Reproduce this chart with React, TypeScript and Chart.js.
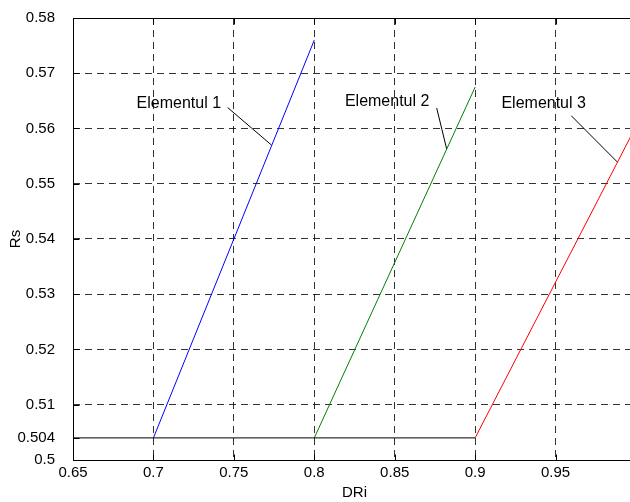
import React, { useEffect, useRef } from "react";
import { Chart, registerables } from "chart.js";

Chart.register(...registerables);

// ---- data ----
const xTicks = [0.65, 0.7, 0.75, 0.8, 0.85, 0.9, 0.95, 1];
const yTicks = [0.5, 0.504, 0.51, 0.52, 0.53, 0.54, 0.55, 0.56, 0.57, 0.58];

const baseX = [0.65, 0.9];
const baseY = [0.504, 0.504];

const el1X = [0.7, 0.8];
const el1Y = [0.504, 0.576];
const el2X = [0.8, 0.9];
const el2Y = [0.504, 0.5675];
const el3X = [0.9, 1.0];
const el3Y = [0.504, 0.5604];

const annLabels = ["Elementul 1", "Elementul 2", "Elementul 3"];
const annTextX = [0.7158, 0.8453, 0.9426];
const annTextY = [0.5638, 0.564, 0.5638];
const leadStartX = [0.7461, 0.8761, 0.9598];
const leadStartY = [0.5638, 0.5637, 0.5623];
const leadEndX = [0.7734, 0.8823, 0.9885];
const leadEndY = [0.557, 0.5563, 0.5539];

const FONT = '"Liberation Sans", Arial, Helvetica, sans-serif';

const pts = (xs: number[], ys: number[]) => xs.map((x, i) => ({ x, y: ys[i] }));

const framePlugin = {
  id: "matlabFrame",
  afterDatasetsDraw(chart: any) {
    const { ctx, chartArea: a, scales } = chart;
    const xs = scales.x;
    const ys = scales.y;
    ctx.save();
    ctx.strokeStyle = "#000";
    ctx.lineWidth = 1;
    ctx.setLineDash([]);
    const L = Math.round(a.left) + 0.5;
    const R = Math.round(a.right) + 0.5;
    const T = Math.round(a.top) + 0.5;
    const B = Math.round(a.bottom) + 0.5;
    ctx.strokeRect(L, T, R - L, B - T);
    const tl = 6;
    ctx.beginPath();
    xTicks.forEach((v) => {
      const p = Math.round(xs.getPixelForValue(v)) + 0.5;
      ctx.moveTo(p, B);
      ctx.lineTo(p, B - tl);
      ctx.moveTo(p, T);
      ctx.lineTo(p, T + tl);
    });
    yTicks.forEach((v) => {
      const p = Math.round(ys.getPixelForValue(v)) + 0.5;
      ctx.moveTo(L, p);
      ctx.lineTo(L + tl, p);
      ctx.moveTo(R, p);
      ctx.lineTo(R - tl, p);
    });
    ctx.stroke();
    ctx.fillStyle = "#000";
    ctx.font = "16px " + FONT;
    ctx.textAlign = "center";
    ctx.textBaseline = "alphabetic";
    annLabels.forEach((t, i) => {
      ctx.fillText(t, xs.getPixelForValue(annTextX[i]), ys.getPixelForValue(annTextY[i]));
    });
    ctx.restore();
  },
};

export default function App() {
  const ref = useRef<HTMLCanvasElement>(null);

  useEffect(() => {
    document.body.style.margin = "0";
    document.body.style.overflow = "hidden";
    document.documentElement.style.overflow = "hidden";
    const canvas = ref.current!;
    const lineDs = (xs: number[], ys: number[], color: string) => ({
      data: pts(xs, ys),
      showLine: true,
      borderColor: color,
      backgroundColor: color,
      borderWidth: 1,
      pointRadius: 0,
      pointHoverRadius: 0,
      fill: false,
      tension: 0,
    });
    const datasets: any[] = [
      lineDs(baseX, baseY, "#000000"),
      lineDs(el1X, el1Y, "#0000ff"),
      lineDs(el2X, el2Y, "#008000"),
      lineDs(el3X, el3Y, "#ff0000"),
    ];
    for (let i = 0; i < annLabels.length; i++) {
      datasets.push(lineDs([leadStartX[i], leadEndX[i]], [leadStartY[i], leadEndY[i]], "#000000"));
    }
    const gridColor = (skip: number[]) => (c: any) =>
      c.tick && skip.some((s) => Math.abs(s - c.tick.value) < 1e-9) ? "rgba(0,0,0,0)" : "rgba(0,0,0,0.8)";

    const chart = new Chart(canvas, {
      type: "scatter",
      data: { datasets },
      plugins: [framePlugin],
      options: {
        animation: false,
        responsive: false,
        events: [],
        layout: { padding: { top: 18, right: 44, left: 0, bottom: 0 } },
        plugins: { legend: { display: false }, tooltip: { enabled: false }, title: { display: false } },
        scales: {
          x: {
            type: "linear",
            min: 0.65,
            max: 1,
            afterBuildTicks: (s: any) => {
              s.ticks = xTicks.map((v) => ({ value: v }));
            },
            afterFit: (s: any) => {
              s.height = 42;
            },
            ticks: {
              autoSkip: false,
              maxRotation: 0,
              padding: 4,
              color: "#000",
              font: { family: FONT, size: 15 },
              callback: (v: any) => String(Math.round(Number(v) * 1000) / 1000),
            },
            grid: { color: gridColor([0.65, 1]), lineWidth: 1, drawTicks: false },
            border: { display: false, dash: [7, 5] },
            title: {
              display: true,
              text: "DRi",
              color: "#000",
              font: { family: FONT, size: 15 },
              padding: { top: 0, bottom: 0 },
            },
          },
          y: {
            type: "linear",
            min: 0.5,
            max: 0.58,
            afterBuildTicks: (s: any) => {
              s.ticks = yTicks.map((v) => ({ value: v }));
            },
            afterFit: (s: any) => {
              s.width = 73;
            },
            ticks: {
              autoSkip: false,
              padding: 0,
              color: "#000",
              font: { family: FONT, size: 15 },
              callback: (v: any) => String(Math.round(Number(v) * 1000) / 1000),
            },
            grid: {
              color: gridColor([0.5, 0.504, 0.58]),
              lineWidth: 1,
              drawTicks: true,
              tickLength: 18,
              tickColor: "rgba(0,0,0,0)",
            },
            border: { display: false, dash: [7, 5] },
            title: {
              display: true,
              text: "Rs",
              color: "#000",
              font: { family: FONT, size: 15 },
              padding: { top: 7, bottom: 0 },
            },
          },
        },
      },
    } as any);
    return () => chart.destroy();
  }, []);

  return (
    <div
      style={{
        position: "fixed",
        left: 0,
        top: 0,
        width: 630,
        height: 502,
        overflow: "hidden",
        background: "#fff",
      }}
    >
      <canvas ref={ref} width={680} height={502} style={{ display: "block" }} />
    </div>
  );
}
